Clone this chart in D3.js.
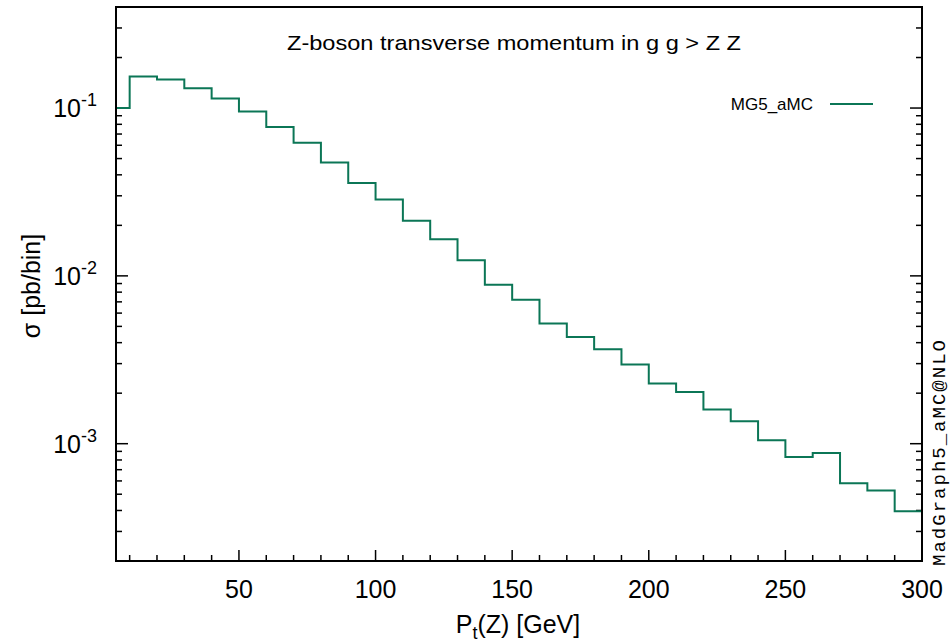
<!DOCTYPE html>
<html>
<head>
<meta charset="utf-8">
<script src="https://cdn.jsdelivr.net/npm/d3@7"></script>
<style>
  body { margin: 0; background: #fff; }
  svg { display: block; font-family: "Liberation Sans", Arial, sans-serif; }
</style>
</head>
<body>
<div id="chart"></div>
<script>
// bin edges (GeV) and cross section per bin (pb/bin)
var binEdges = [0,10,20,30,40,50,60,70,80,90,100,110,120,130,140,150,160,170,180,190,200,
                210,220,230,240,250,260,270,280,290,300];
var sigma = [0.100,0.154,0.148,0.131,0.114,0.0955,0.0771,0.0621,0.0473,0.0358,
             0.0285,0.0213,0.0165,0.0124,0.00885,0.00720,0.00520,0.00433,0.00366,0.00296,
             0.00228,0.00203,0.00160,0.00136,0.00105,0.000832,0.000879,0.000582,0.000526,0.000396];
var xTicks = [50,100,150,200,250,300];
var yTicks = [1e-3,1e-2,1e-1];
var yTickLabels = [["10","-3"],["10","-2"],["10","-1"]];

var W = 951, H = 644;
var m = {left: 116, right: 29, top: 7, bottom: 83};
var green = "#0b7656";

var svg = d3.select("#chart").append("svg")
    .attr("width", W).attr("height", H);

var x = d3.scaleLinear().domain([5, 300]).range([m.left, W - m.right]);
var y = d3.scaleLog().domain([2e-4, 0.4]).range([H - m.bottom, m.top]);

// minor y ticks: 2..9 per decade
var yMinor = [];
[1e-4,1e-3,1e-2,1e-1].forEach(function(d){
    for (var k = 2; k <= 9; k++) {
	var v = d * k;
	if (v >= 2e-4 && v <= 0.4) yMinor.push(v);
    }
});
var xMinor = d3.range(10, 300, 10).filter(function(d){ return d % 50 != 0; });

var g = svg.append("g");

// x ticks (bottom only)
g.selectAll(".xmaj").data(xTicks).enter().append("line")
    .attr("x1", function(d){ return x(d); }).attr("x2", function(d){ return x(d); })
    .attr("y1", y.range()[0]).attr("y2", y.range()[0] - 11)
    .attr("stroke", "#000").attr("stroke-width", 1.5);
g.selectAll(".xmin").data(xMinor).enter().append("line")
    .attr("x1", function(d){ return x(d); }).attr("x2", function(d){ return x(d); })
    .attr("y1", y.range()[0]).attr("y2", y.range()[0] - 6)
    .attr("stroke", "#000").attr("stroke-width", 1.5);

// y ticks, mirrored on both sides
[m.left, W - m.right].forEach(function(x0, side){
    var dir = side == 0 ? 1 : -1;
    g.selectAll(".ymaj" + side).data(yTicks).enter().append("line")
	.attr("x1", x0).attr("x2", x0 + dir * 12)
	.attr("y1", function(d){ return y(d); }).attr("y2", function(d){ return y(d); })
	.attr("stroke", "#000").attr("stroke-width", 1.5);
    g.selectAll(".ymin" + side).data(yMinor).enter().append("line")
	.attr("x1", x0).attr("x2", x0 + dir * 6)
	.attr("y1", function(d){ return y(d); }).attr("y2", function(d){ return y(d); })
	.attr("stroke", "#000").attr("stroke-width", 1.5);
});

// tick labels
g.selectAll(".xlab").data(xTicks).enter().append("text")
    .attr("x", function(d){ return x(d); })
    .attr("y", y.range()[0] + 37)
    .attr("text-anchor", "middle")
    .attr("font-size", 25)
    .text(function(d){ return d; });

var yl = g.selectAll(".ylab").data(yTicks).enter().append("text")
    .attr("x", m.left - 19)
    .attr("y", function(d){ return y(d) + 9; })
    .attr("text-anchor", "end")
    .attr("font-size", 25);
yl.append("tspan").text(function(d, i){ return yTickLabels[i][0]; });
yl.append("tspan").attr("dy", -11).attr("font-size", 18)
    .text(function(d, i){ return yTickLabels[i][1]; });

// histogram as a step line
var pts = [];
sigma.forEach(function(v, i){
    pts.push([Math.max(binEdges[i], 5), v]);
    pts.push([binEdges[i + 1], v]);
});
var line = d3.line()
    .x(function(d){ return x(d[0]); })
    .y(function(d){ return y(d[1]); });
g.append("path").datum(pts)
    .attr("d", line)
    .attr("fill", "none")
    .attr("stroke", green)
    .attr("stroke-width", 2);

// frame
g.append("rect")
    .attr("x", m.left).attr("y", m.top)
    .attr("width", W - m.right - m.left).attr("height", H - m.bottom - m.top)
    .attr("fill", "none").attr("stroke", "#000").attr("stroke-width", 2);

// title
svg.append("text")
    .attr("x", 514).attr("y", 50)
    .attr("text-anchor", "middle")
    .attr("font-size", 21)
    .attr("textLength", 454)
    .attr("lengthAdjust", "spacingAndGlyphs")
    .text("Z-boson transverse momentum in g g > Z Z");

// legend
svg.append("text")
    .attr("x", 813).attr("y", 110)
    .attr("text-anchor", "end")
    .attr("font-size", 17)
    .text("MG5_aMC");
svg.append("line")
    .attr("x1", 830).attr("x2", 873).attr("y1", 104).attr("y2", 104)
    .attr("stroke", green).attr("stroke-width", 2);

// axis titles
var xt = svg.append("text")
    .attr("x", 518).attr("y", 633)
    .attr("text-anchor", "middle")
    .attr("font-size", 25);
xt.append("tspan").text("P");
xt.append("tspan").attr("dy", 6).attr("font-size", 18).text("t");
xt.append("tspan").attr("dy", -6).text("(Z) [GeV]");

svg.append("text")
    .attr("transform", "translate(40,286) rotate(-90)")
    .attr("text-anchor", "middle")
    .attr("font-size", 25)
    .text("σ [pb/bin]");

svg.append("text")
    .attr("transform", "translate(945,453) rotate(-90)")
    .attr("text-anchor", "middle")
    .attr("font-family", "Liberation Mono, Courier New, monospace")
    .attr("font-size", 19)
    .attr("textLength", 226)
    .attr("lengthAdjust", "spacing")
    .text("MadGraph5_aMC@NLO");
</script>
</body>
</html>
